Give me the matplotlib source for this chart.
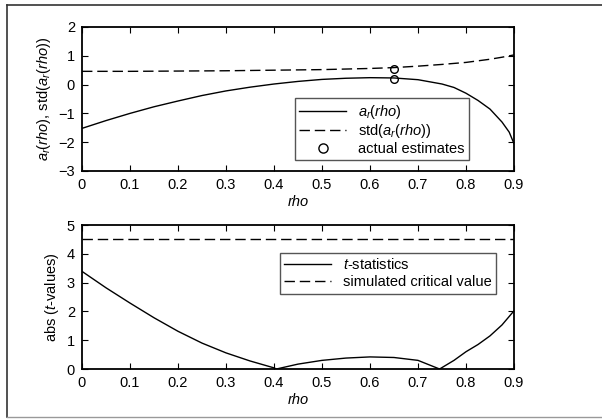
import numpy as np
import matplotlib.pyplot as plt
from matplotlib.lines import Line2D
from matplotlib.ticker import FuncFormatter

plt.rcParams['font.family'] = ['Liberation Sans', 'DejaVu Sans']
plt.rcParams['mathtext.fontset'] = 'custom'
plt.rcParams['mathtext.rm'] = 'Liberation Sans'
plt.rcParams['mathtext.it'] = 'Liberation Sans:italic'
plt.rcParams['font.size'] = 10.5

# top panel: a_r(rho) and its standard deviation
rho_a = [0, 0.05, 0.1, 0.15, 0.2, 0.25, 0.3, 0.35, 0.4, 0.45, 0.5, 0.55, 0.6,
         0.65, 0.7, 0.75, 0.775, 0.8, 0.825, 0.85, 0.875, 0.89, 0.9]
a_r = [-1.52, -1.25, -1.0, -0.77, -0.57, -0.38, -0.22, -0.09, 0.02, 0.11, 0.18,
       0.22, 0.24, 0.23, 0.17, 0.02, -0.1, -0.3, -0.55, -0.85, -1.3, -1.65, -2.05]
rho_s = [0, 0.1, 0.2, 0.3, 0.4, 0.5, 0.55, 0.6, 0.65, 0.7, 0.75, 0.8, 0.85, 0.875, 0.9]
std_a = [0.46, 0.46, 0.47, 0.48, 0.5, 0.52, 0.54, 0.56, 0.59, 0.64, 0.7, 0.77,
         0.88, 0.95, 1.03]
est_rho = [0.65, 0.65]
est_val = [0.53, 0.2]

# bottom panel: absolute t-values
rho_t = [0, 0.05, 0.1, 0.15, 0.2, 0.25, 0.3, 0.35, 0.4, 0.405, 0.45, 0.5, 0.55,
         0.6, 0.65, 0.7, 0.745, 0.775, 0.8, 0.825, 0.85, 0.875, 0.9]
t_abs = [3.39, 2.82, 2.29, 1.78, 1.31, 0.9, 0.56, 0.28, 0.04, 0.0, 0.17, 0.3,
         0.38, 0.42, 0.4, 0.3, 0.0, 0.3, 0.6, 0.85, 1.15, 1.53, 2.02]
crit_value = 4.5

xticks = [0, 0.1, 0.2, 0.3, 0.4, 0.5, 0.6, 0.7, 0.8, 0.9]

fig = plt.figure(figsize=(6.02, 4.19), dpi=100)
ax1 = fig.add_axes([0.1362, 0.5919, 0.7176, 0.3437])
ax2 = fig.add_axes([0.1362, 0.1193, 0.7176, 0.3437])

dash = (7.5, 3.5)
ax1.plot(rho_a, a_r, color='black', lw=1.0, label=r'$a_r$($\it{rho}$)')
ax1.plot(rho_s, std_a, color='black', lw=1.0, dashes=dash,
         label=r'std($a_r$($\it{rho}$))')
ax1.plot(est_rho, est_val, 'o', mfc='none', mec='black', ms=5.5, mew=1.0,
         label='actual estimates')
ax1.set_ylim(-3, 2)
ax1.set_yticks([-3, -2, -1, 0, 1, 2])
ax1.set_ylabel(r'$a_r$($\it{rho}$), std($a_r$($\it{rho}$))')
leg1 = ax1.legend(loc='lower left', bbox_to_anchor=(0.493, 0.076), fancybox=False,
                  handlelength=3.2, borderpad=0.3, labelspacing=0.1,
                  borderaxespad=0, framealpha=1, edgecolor='#555555',
                  markerscale=1.2)
leg1.get_frame().set_linewidth(1.0)

ax2.plot(rho_t, t_abs, color='black', lw=1.0, label=r'$\it{t}$-statistics')
ax2.axhline(crit_value, color='black', lw=1.0, dashes=dash,
            label='simulated critical value')
ax2.set_ylim(0, 5)
ax2.set_yticks([0, 1, 2, 3, 4, 5])
ax2.set_ylabel(r'abs ($\it{t}$-values)')
leg2 = ax2.legend(loc='upper left', bbox_to_anchor=(0.458, 0.806), fancybox=False,
                  handlelength=3.2, borderpad=0.3, labelspacing=0.2,
                  borderaxespad=0, framealpha=1, edgecolor='#555555')
leg2.get_frame().set_linewidth(1.0)

for ax in (ax1, ax2):
    ax.set_xlim(0, 0.9)
    ax.set_xticks(xticks)
    ax.xaxis.set_major_formatter(FuncFormatter(lambda v, p: '%g' % round(v, 2)))
    ax.set_xlabel('rho', style='italic', labelpad=2)
    ax.tick_params(direction='in', top=True, right=True, length=4, width=0.8,
                   labelsize=10.5, pad=5)
    for s in ax.spines.values():
        s.set_linewidth(1.3)

# outer frame
fig.add_artist(Line2D([7 / 602, 7 / 602], [1 - 5 / 419, 1 - 417 / 419],
                      transform=fig.transFigure, color='#333333', lw=1.2))
fig.add_artist(Line2D([7 / 602, 1], [1 - 5 / 419, 1 - 5 / 419],
                      transform=fig.transFigure, color='#333333', lw=1.2))
fig.add_artist(Line2D([7 / 602, 1], [1 - 417 / 419, 1 - 417 / 419],
                      transform=fig.transFigure, color='#999999', lw=1.0))

fig.savefig('out.png', dpi=100)
